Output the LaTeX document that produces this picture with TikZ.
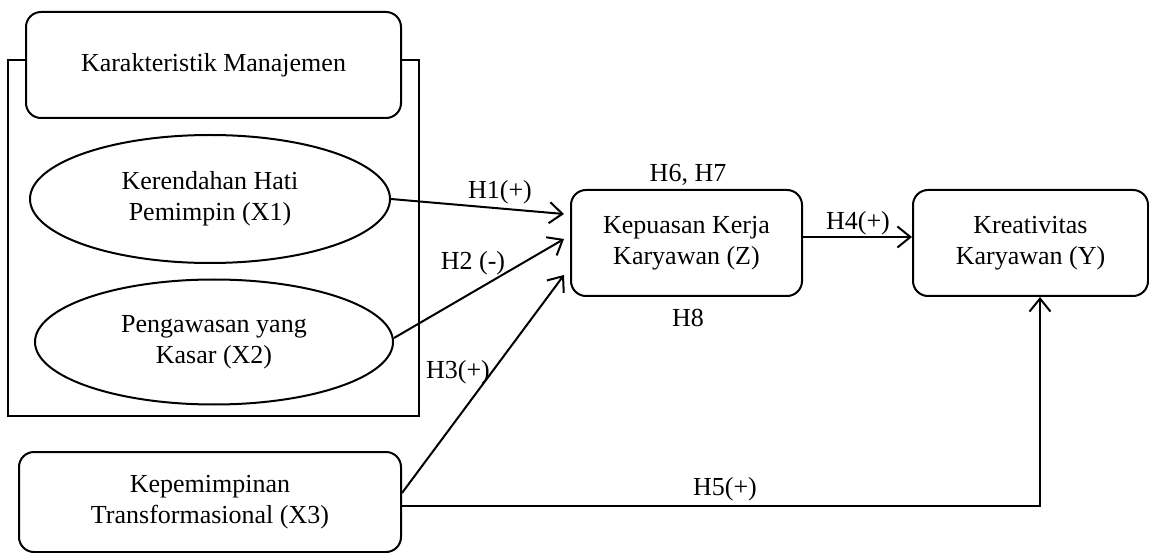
\documentclass[tikz,border=0pt]{standalone}
\usepackage{fontspec}
\setmainfont{Liberation Serif}
\usetikzlibrary{shapes.geometric,arrows.meta}
\tikzset{
  every node/.style={font=\fontsize{26}{31}\selectfont, inner sep=0pt},
  rbox/.style={draw, line width=2pt, rounded corners=15pt, align=center, fill=white},
  ebox/.style={draw, line width=2pt, ellipse, align=center},
  conn/.style={line width=2pt, -{Straight Barb[length=13pt,width=21pt,line width=2pt]}},
  lab/.style={}
}
\begin{document}
\begin{tikzpicture}[x=1pt,y=-1pt]
\useasboundingbox (0,0) rectangle (1149,553);
% outer frame
\node[draw, line width=2pt, minimum width=411pt, minimum height=356pt] (frame) at (213.5,238) {};
\node[rbox, minimum width=375pt, minimum height=106pt] (KM) at (213.5,65) {Karakteristik Manajemen};
\node[ebox, minimum width=360pt, minimum height=128pt] (X1) at (210,199) {Kerendahan Hati\\Pemimpin (X1)};
\node[ebox, minimum width=358pt, minimum height=125pt] (X2) at (214,342) {Pengawasan yang\\Kasar (X2)};
\node[rbox, minimum width=382pt, minimum height=100pt] (X3) at (210,502) {Kepemimpinan\\Transformasional (X3)};
\node[rbox, minimum width=231pt, minimum height=106pt] (Z) at (686.5,243) {Kepuasan Kerja\\Karyawan (Z)};
\node[rbox, minimum width=235pt, minimum height=106pt] (Y) at (1030.5,243) {Kreativitas\\Karyawan (Y)};
% connectors
\draw[conn] (X1.east) -- ([shift={(-6pt,29pt)}]Z.west);
\draw[conn] ([yshift=4pt]X2.east) -- ([shift={(-6pt,4pt)}]Z.west);
\draw[conn] ([yshift=9pt]X3.east) -- ([shift={(-6pt,-32pt)}]Z.west);
\draw[conn] ([yshift=6pt]Z.east) -- ([yshift=6pt]Y.west);
\draw[conn, line width=1.6pt] ([yshift=-4pt]X3.east) -| ([xshift=9.5pt]Y.south);
% labels
\node[lab] (l1) at (500,192) {H1(+)};
\node[lab] (l2) at (473,263) {H2 (-)};
\node[lab] (l3) at (458,372) {H3(+)};
\node[lab] (l67) at (688,175) {H6, H7};
\node[lab] (l8) at (688,318) {H8};
\node[lab] (l4) at (858,223) {H4(+)};
\node[lab] (l5) at (725,489) {H5(+)};
\end{tikzpicture}
\end{document}
